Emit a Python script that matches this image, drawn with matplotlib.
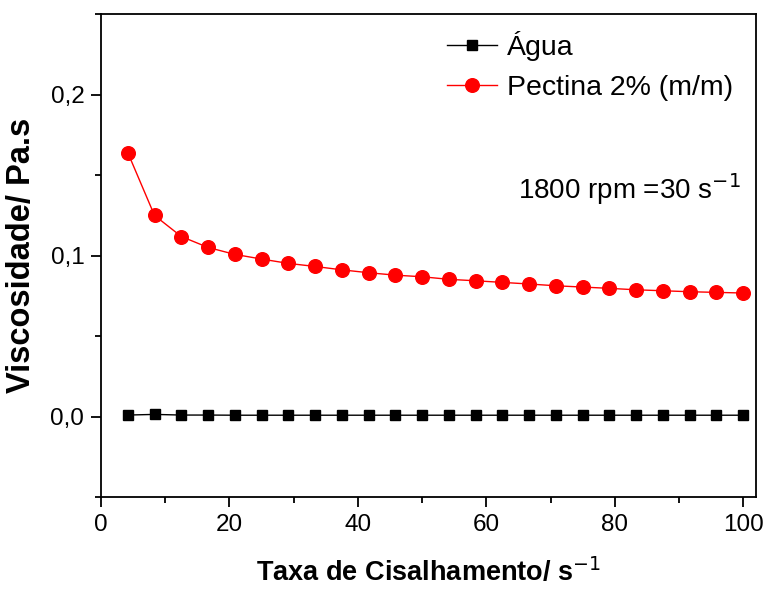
import numpy as np
import matplotlib
matplotlib.use("Agg")
import matplotlib.pyplot as plt
from matplotlib.ticker import MultipleLocator, FuncFormatter

# shear rate (s^-1)
taxa = [4.17, 8.33, 12.5, 16.67, 20.83, 25.0, 29.17, 33.33, 37.5, 41.67, 45.83, 50.0,
        54.17, 58.33, 62.5, 66.67, 70.83, 75.0, 79.17, 83.33, 87.5, 91.67, 95.83, 100.0]
# viscosity (Pa.s)
agua = [0.0009, 0.0013, 0.0009, 0.0009, 0.0008, 0.0008, 0.0008, 0.0008, 0.0008, 0.0008, 0.0008, 0.0008,
        0.0008, 0.0008, 0.0008, 0.0008, 0.0008, 0.0008, 0.0008, 0.0008, 0.0008, 0.0008, 0.0008, 0.0008]
pectina = [0.1639, 0.1249, 0.1118, 0.1050, 0.1007, 0.0978, 0.0951, 0.0932, 0.0911, 0.0893, 0.0878, 0.0868,
           0.0852, 0.0843, 0.0833, 0.0823, 0.0812, 0.0804, 0.0796, 0.0787, 0.0781, 0.0775, 0.0771, 0.0767]

plt.rcParams['font.family'] = ['Liberation Sans', 'DejaVu Sans']

fig = plt.figure(figsize=(7.67, 5.89), dpi=100)
ax = fig.add_axes([0.1317, 0.1562, 0.854, 0.820])

ax.plot(taxa, agua, '-s', color='black', lw=1, ms=7.2, label='Água')
ax.plot(taxa, pectina, '-o', color='red', lw=1, ms=9.8, label='Pectina 2% (m/m)')

ax.set_xlim(0, 102)
ax.set_ylim(-0.05, 0.25)
ax.xaxis.set_major_locator(MultipleLocator(20))
ax.xaxis.set_minor_locator(MultipleLocator(10))
ax.yaxis.set_major_locator(MultipleLocator(0.1))
ax.yaxis.set_minor_locator(MultipleLocator(0.05))
ax.yaxis.set_major_formatter(FuncFormatter(lambda v, p: f"{v:.1f}".replace('.', ',')))
ax.tick_params(which='both', direction='out', top=False, right=False, width=1.3)
ax.tick_params(which='major', length=7, labelsize=17.5, pad=5)
ax.tick_params(which='minor', length=4)
for s in ax.spines.values():
    s.set_linewidth(1.3)

ax.set_xlabel('Taxa de Cisalhamento/ s$^{-1}$', fontsize=19.5, fontweight='bold')
ax.xaxis.set_label_coords(0.5, -0.125)
ax.xaxis.label.set_va('top')
ax.set_ylabel('Viscosidade/ Pa.s', fontsize=23.5, fontweight='bold')
ax.yaxis.set_label_coords(-0.097, 0.5)

ax.text(0.977, 0.617, '1800 rpm =30 s$^{-1}$', transform=ax.transAxes, ha='right', va='baseline', fontsize=20)

ax.legend(loc='upper left', bbox_to_anchor=(0.528, 0.965), frameon=False, fontsize=20.5,
          borderpad=0, borderaxespad=0, handlelength=1.75, handletextpad=0.35, labelspacing=0.5)

fig.savefig('out.png', dpi=100)
